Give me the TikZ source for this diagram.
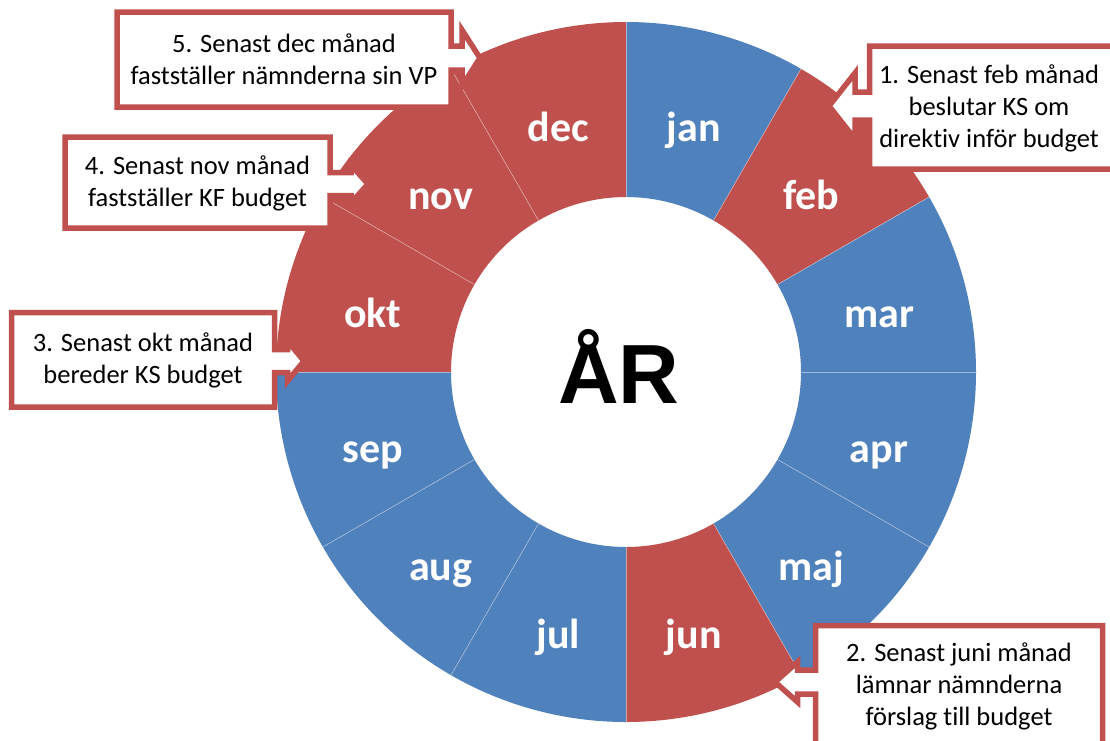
\documentclass[tikz,border=0pt]{standalone}
\usepackage{fontspec}
\setmainfont{Carlito}[Ligatures=NoCommon]
\newfontfamily\arfont{Liberation Sans}
\definecolor{segred}{HTML}{C0504D}
\definecolor{segblue}{HTML}{4F81BD}
% #1 far x, #2 arrow-side x, #3 top y, #4 bottom y, #5 arrow centre y,
% #6 shaft half height, #7 head base x, #8 head half height, #9 tip x
\newcommand\callpath[9]{%
  \draw[calloutbox] (#1,#3) -- (#2,#3) -- (#2,{#5-#6}) -- (#7,{#5-#6}) -- (#7,{#5-#8})
    -- (#9,#5) -- (#7,{#5+#8}) -- (#7,{#5+#6}) -- (#2,{#5+#6}) -- (#2,#4) -- (#1,#4) -- cycle;}
\tikzset{
  calloutbox/.style={draw=segred, fill=white, line width=5.5pt, line join=miter},
  calltext/.style={align=center, font=\fontsize{26.5}{32}\selectfont, text=black, inner sep=0pt},
  monthlbl/.style={font=\fontsize{42}{50}\selectfont\bfseries, text=white, inner sep=0pt},
  seppen/.style={draw=white, line width=0.6pt, draw opacity=0.45}
}
\begin{document}
\begin{tikzpicture}[x=1pt,y=-1pt]
\useasboundingbox (0,0) rectangle (1110,740);
\clip (0,0) rectangle (1110,740);
\fill[white] (0,0) rectangle (1110,740);
\begin{scope}[shift={(626,372)}, y=1pt]
  \foreach \m/\c [count=\i from 0] in {jan/segblue, feb/segred, mar/segblue, apr/segblue, maj/segblue, jun/segred, jul/segblue, aug/segblue, sep/segblue, okt/segred, nov/segred, dec/segred}{
    \pgfmathsetmacro\a{90-30*\i}
    \fill[\c] (\a:350) arc[start angle=\a, end angle=\a-30, radius=350]
      -- ({\a-30}:175) arc[start angle=\a-30, end angle=\a, radius=175] -- cycle;
  }
  \foreach \i in {0,...,11}{
    \pgfmathsetmacro\a{90-30*\i}
    \draw[seppen] (\a:175) -- (\a:350);
  }
  \foreach \m [count=\i from 0] in {jan,feb,mar,apr,maj,jun,jul,aug,sep,okt,nov,dec}{
    \pgfmathsetmacro\a{75-30*\i}
    \node[monthlbl, anchor=base, yshift=-23pt] (lbl\m) at (\a:262) {\m};
  }
  \node[anchor=base, inner sep=0pt, font=\arfont\bfseries\fontsize{84}{90}\selectfont] (year) at (-7,-31) {ÅR};
\end{scope}
% callouts
\callpath{117}{451}{12}{107}{58}{12}{462}{28}{480}
\node[calltext] (c5) at (284,59.5) {5. Senast dec månad\\fastställer nämnderna sin VP};
\callpath{1125}{869.5}{46}{169}{106}{14}{855}{33}{829}
\node[calltext] (c1) at (989,108) {1. Senast feb månad\\beslutar KS om\\direktiv inför budget};
\callpath{65}{330}{137}{228}{184}{11.5}{351}{19}{368}
\node[calltext] (c4) at (197.5,183) {4. Senast nov månad\\fastställer KF budget};
\callpath{11.5}{274.5}{312.5}{407}{361}{11.5}{287.5}{20}{304}
\node[calltext] (c3) at (143,360) {3. Senast okt månad\\bereder KS budget};
\callpath{1102.5}{815.5}{625.5}{760}{682}{12}{797.5}{20}{775}
\node[calltext] (c2) at (959,686) {2. Senast juni månad\\lämnar nämnderna\\förslag till budget};
\end{tikzpicture}
\end{document}
